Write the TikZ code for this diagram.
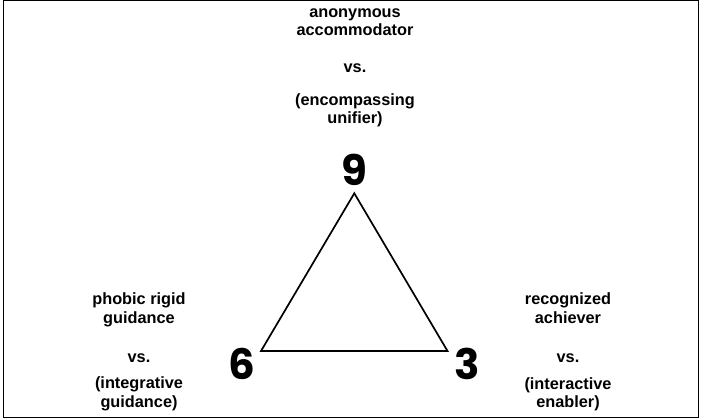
\documentclass[tikz,border=0pt]{standalone}
\usepackage{fontspec}
\setmainfont{Liberation Sans}
\newfontfamily\digitfont{Poppins}

\begin{document}
\begin{tikzpicture}[x=1pt,y=-1pt,
	pole/.style={align=center,anchor=base,inner sep=0pt,font=\bfseries\fontsize{16.3}{18.4}\selectfont},
	digit/.style={inner sep=0pt,font=\digitfont\bfseries\fontsize{42}{42}\selectfont}]
	
	\useasboundingbox (0,0) rectangle (701,420);
	
	% Cadre
	\draw[line width=1.4pt] (3.5,0.7) rectangle (698.5,417.3);
	
	% Chiffres aux sommets
	\node[digit] (nine) at (354,170) {9};
	\node[digit] (six) at (242,363.5) {6};
	\node[digit] (three) at (467.5,363.5) {3};
	
	% Sommets du triangle
	\coordinate (top) at (354.3,193.3);
	\coordinate (left) at (261,351);
	\coordinate (right) at (447.5,351);
	\draw[line width=1.7pt, line join=miter] (top) -- (left) -- (right) -- cycle;
	
	% Texte en haut (9), ancre sur la derniere ligne
	\node[pole] (ninea) at (355,35.7) {anonymous\\accommodator};
	\node[pole] (ninevs) at (355,73) {vs.};
	\node[pole] (nineb) at (355,123.5) {(encompassing\\unifier)};
	
	% Texte a gauche (6)
	\node[pole] (sixa) at (139,323) {phobic rigid\\guidance};
	\node[pole] (sixvs) at (139,362) {vs.};
	\node[pole] (sixb) at (139,407) {(integrative\\guidance)};
	
	% Texte a droite (3)
	\node[pole] (threea) at (568,323) {recognized\\achiever};
	\node[pole] (threevs) at (568,362) {vs.};
	\node[pole] (threeb) at (568,407.5) {(interactive\\enabler)};
	
\end{tikzpicture}
\end{document}
